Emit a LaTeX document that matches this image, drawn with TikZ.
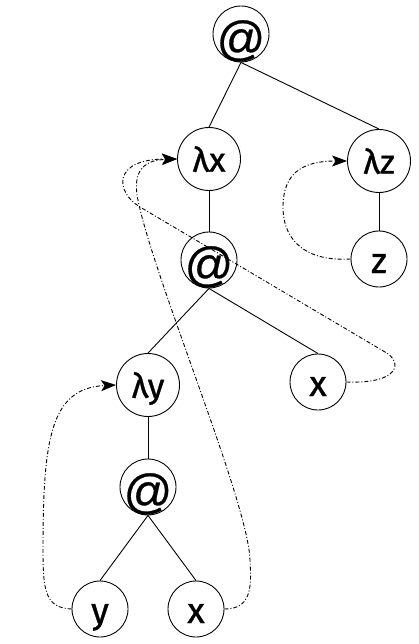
\documentclass[tikz,border=0pt]{standalone}
\usepackage{fontspec}
\setmainfont{Fira Sans}[FakeBold=1]
\newfontfamily\nodefont{Fira Sans}[FakeBold=1]
\newfontfamily\atfont{Liberation Sans}[FakeBold=0.6]
\newcommand{\lowered}[2]{\smash{\raisebox{-#1}{#2}}}
\usetikzlibrary{arrows.meta}
\begin{document}
\begin{tikzpicture}[x=1pt,y=-1pt,
  nd/.style={circle,draw,line width=0.9pt,inner sep=0pt,minimum size=56pt,
    font=\nodefont\fontsize{36}{36}\selectfont},
  lam/.style={nd,minimum size=63pt,font=\nodefont\fontsize{34}{34}\selectfont},
  appnode/.style={nd,font=\atfont\fontsize{48}{48}\selectfont},
  edge/.style={line width=0.9pt},
  link/.style={line width=0.9pt,dash pattern=on 4pt off 2pt on 1pt off 2pt,-{Stealth[length=15pt,width=11pt,inset=3.5pt]}}]
\useasboundingbox (0,0) rectangle (418,644);
\node[appnode] (a1) at (241,34)  {\lowered{21pt}{@}};
\node[lam] (lx) at (209,159) {\lowered{12.7pt}{λx}};
\node[lam] (lz) at (379,161) {\lowered{12.7pt}{λz}};
\node[appnode] (a2) at (209,260) {\lowered{21pt}{@}};
\node[nd]  (z)  at (379,259) {\lowered{14pt}{z}};
\node[lam] (ly) at (148,385) {\lowered{12.7pt}{λy}};
\node[nd]  (x1) at (318,382) {\lowered{14pt}{x}};
\node[appnode] (a3) at (148,487) {\lowered{21pt}{@}};
\node[nd]  (y)  at (100,609) {\lowered{14pt}{y}};
\node[nd]  (x2) at (196,609) {\lowered{14pt}{x}};
\draw[edge] (a1.south) -- (lx.north);
\draw[edge] (a1.south) -- (lz.north);
\draw[edge] (lx.south) -- (a2.north);
\draw[edge] (lz.south) -- (z.north);
\draw[edge] (a2.south) -- (ly.north);
\draw[edge] (a2.south) -- (x1.north);
\draw[edge] (ly.south) -- (a3.north);
\draw[edge] (a3.south) -- (y.north);
\draw[edge] (a3.south) -- (x2.north);
\draw[link] (x1.east) .. controls (400,384) and (403,362) .. (385,352) -- (140,207) .. controls (115,192) and (112,159) .. (lx.west);
\draw[link] (x2.east) .. controls (250,609) and (252,590) .. (250,560) .. controls (248,500) and (150,270) .. (137,195) .. controls (133,165) and (150,160) .. (lx.west);
\draw[link] (z.west) .. controls (300,262) and (282,235) .. (283,205) .. controls (284,175) and (300,161) .. (lz.west);
\draw[link] (y.west) .. controls (45,608) and (43,590) .. (43,550) .. controls (43,440) and (50,388) .. (ly.west);
\end{tikzpicture}
\end{document}
